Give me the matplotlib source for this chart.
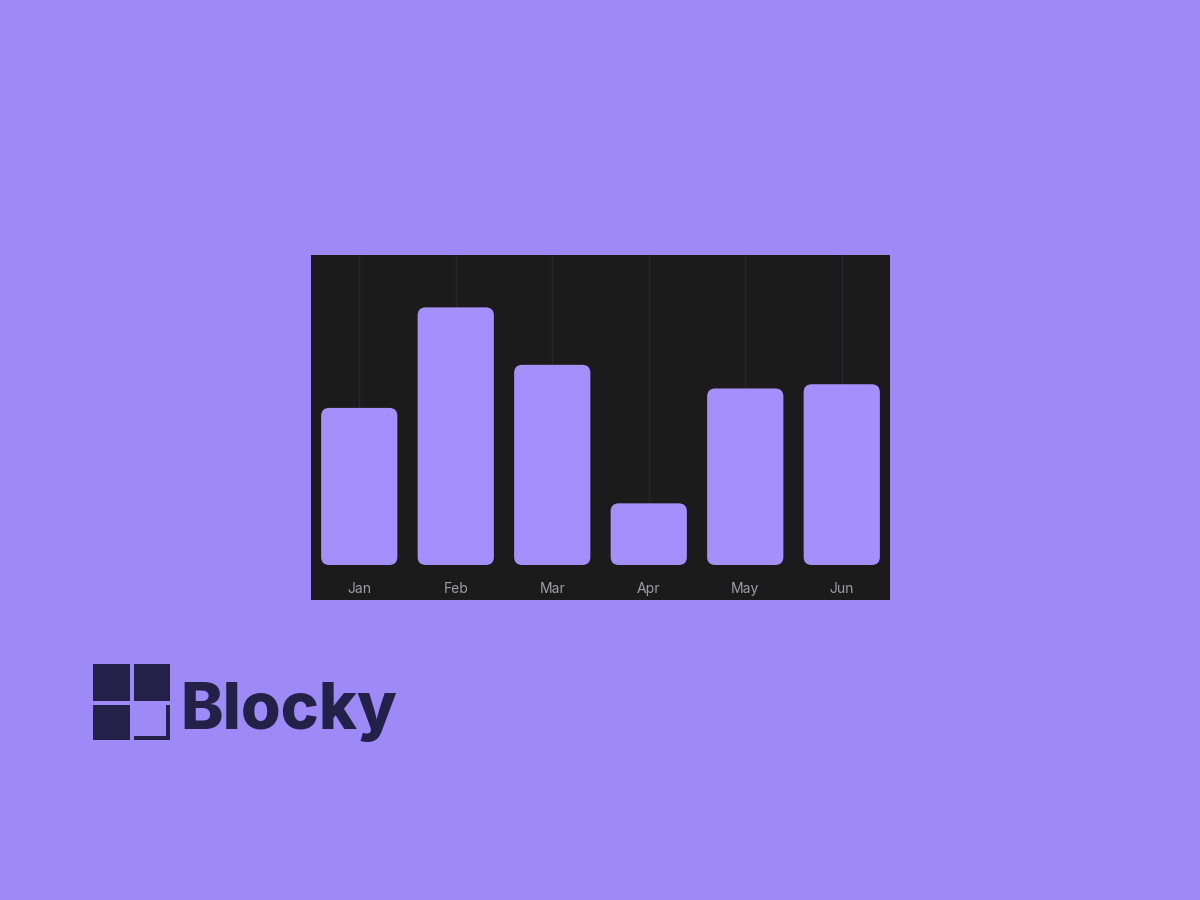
import matplotlib
matplotlib.use("Agg")
import matplotlib.pyplot as plt
from matplotlib.patches import FancyBboxPatch, Rectangle

months = ["Jan", "Feb", "Mar", "Apr", "May", "Jun"]
visitors = [186, 305, 237, 73, 209, 214]

BG = "#9e8af6"
PANEL = "#1b1b1b"
BAR = "#a48ffd"
GRID = "#272630"
LOGO = "#242149"

W, H = 1200, 900


def fx(px):
    return px / W


def fy(py):
    return 1 - py / H


fig = plt.figure(figsize=(12, 9), dpi=100, facecolor=BG)

# dark card behind the chart
fig.patches.append(Rectangle((fx(311), fy(600)), fx(890) - fx(311), fy(255) - fy(600),
                             transform=fig.transFigure, facecolor=PANEL, edgecolor="none", zorder=0))

ax = fig.add_axes([fx(311), fy(565), fx(890) - fx(311), fy(255) - fy(565)], zorder=2)
ax.set_facecolor("none")
ax.set_xlim(-0.5, len(months) - 0.5)
ax.set_ylim(0, 367)
for s in ax.spines.values():
    s.set_visible(False)

x = list(range(len(months)))
# thin vertical guides behind each bar
for xi in x:
    ax.axvline(xi, color=GRID, lw=1.0, zorder=1)

bars = ax.bar(x, visitors, width=0.79, color=BAR, zorder=2)
# swap the square bars for rounded ones
for b in bars:
    rb = FancyBboxPatch((b.get_x(), b.get_y()), b.get_width(), b.get_height(),
                        boxstyle="round,pad=0,rounding_size=0.085", mutation_aspect=112,
                        facecolor=BAR, edgecolor="none", zorder=2)
    ax.add_patch(rb)
    b.set_visible(False)

ax.set_yticks([])
ax.set_xticks(x)
ax.set_xticklabels(months, color="#9e9ea4", fontsize=10, family="Inter")
ax.tick_params(axis="x", length=0, pad=12.5)

# logo
sq = [(93, 664, 37, 37), (134, 664, 36, 37), (93, 705, 37, 35)]
for (l, t, w, h) in sq:
    fig.patches.append(Rectangle((fx(l), fy(t + h)), w / W, h / H, transform=fig.transFigure,
                                 facecolor=LOGO, edgecolor="none"))
fig.patches.append(Rectangle((fx(134), fy(740)), 36 / W, 4 / H, transform=fig.transFigure,
                             facecolor=LOGO, edgecolor="none"))
fig.patches.append(Rectangle((fx(166), fy(740)), 4 / W, 35 / H, transform=fig.transFigure,
                             facecolor=LOGO, edgecolor="none"))
fig.text(fx(180), fy(729), "Blocky", fontsize=46.3, fontweight=800, family="Inter",
         color=LOGO, ha="left", va="baseline")

fig.savefig("out.png", dpi=100, facecolor=BG)
